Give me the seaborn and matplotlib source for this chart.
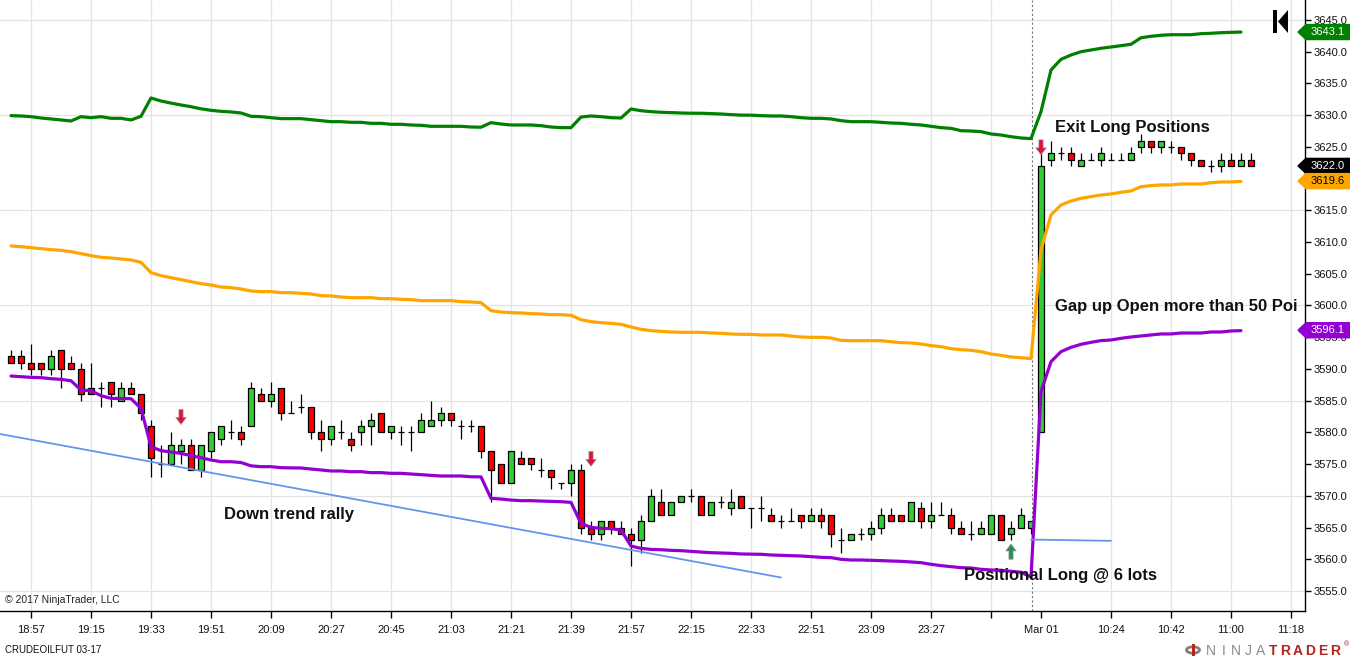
import numpy as np
import matplotlib
matplotlib.use("Agg")
import matplotlib.pyplot as plt
import seaborn as sns
from matplotlib.patches import Polygon, Rectangle, Circle

# CRUDEOILFUT 03-17, 3 minute bars: 28 Feb 18:51-23:57, then 01 Mar 10:03-11:06
opens = [3592, 3592, 3591, 3591, 3590, 3593, 3591, 3590, 3587, 3587,
         3588, 3585, 3587, 3586, 3581, 3575, 3575, 3577, 3578, 3574,
         3577, 3579, 3580, 3580, 3581, 3586, 3585, 3587, 3583, 3584,
         3584, 3580, 3579, 3580, 3579, 3580, 3581, 3583, 3580, 3580,
         3580, 3580, 3581, 3582, 3583, 3581, 3581, 3581, 3577, 3575,
         3572, 3576, 3576, 3574, 3574, 3572, 3572, 3574, 3565, 3564,
         3566, 3565, 3564, 3563, 3566, 3569, 3567, 3569, 3570, 3570,
         3567, 3569, 3568, 3570, 3568, 3568, 3567, 3566, 3566, 3567,
         3566, 3567, 3567, 3563, 3563, 3564, 3564, 3565, 3567, 3567,
         3566, 3568, 3566, 3567, 3567, 3565, 3564, 3564, 3564, 3567,
         3564, 3565, 3565,
         3580, 3623, 3624, 3624, 3622, 3623, 3623, 3623, 3623, 3623,
         3625, 3626, 3625, 3625, 3625, 3624, 3623, 3622, 3622, 3623,
         3622, 3623]
highs = [3593, 3593, 3594, 3591, 3593, 3593, 3592, 3591, 3591, 3588,
         3588, 3588, 3588, 3586, 3582, 3578, 3580, 3579, 3579, 3578,
         3580, 3581, 3582, 3581, 3588, 3587, 3588, 3587, 3585, 3586,
         3584, 3582, 3581, 3582, 3580, 3582, 3583, 3583, 3581, 3581,
         3581, 3583, 3585, 3584, 3583, 3582, 3582, 3581, 3577, 3575,
         3577, 3577, 3576, 3576, 3574, 3572, 3575, 3575, 3566, 3566,
         3566, 3566, 3565, 3567, 3571, 3571, 3569, 3570, 3571, 3570,
         3569, 3570, 3571, 3570, 3568, 3570, 3568, 3567, 3568, 3567,
         3568, 3568, 3567, 3565, 3564, 3565, 3566, 3568, 3568, 3567,
         3569, 3569, 3569, 3569, 3568, 3566, 3566, 3566, 3567, 3567,
         3566, 3568, 3566,
         3624, 3626, 3625, 3625, 3624, 3624, 3625, 3624, 3624, 3625,
         3627, 3626, 3626, 3626, 3625, 3624, 3623, 3623, 3624, 3624,
         3624, 3624]
lows = [3591, 3590, 3589, 3589, 3589, 3587, 3590, 3585, 3586, 3584,
        3584, 3585, 3586, 3582, 3573, 3573, 3575, 3575, 3574, 3573,
        3576, 3578, 3579, 3578, 3581, 3585, 3584, 3582, 3583, 3583,
        3579, 3577, 3578, 3579, 3577, 3578, 3578, 3580, 3579, 3578,
        3577, 3580, 3581, 3581, 3581, 3579, 3580, 3576, 3569, 3572,
        3572, 3575, 3574, 3573, 3571, 3571, 3570, 3564, 3563, 3563,
        3564, 3564, 3559, 3561, 3566, 3567, 3567, 3569, 3569, 3567,
        3567, 3568, 3567, 3568, 3565, 3566, 3566, 3565, 3566, 3565,
        3566, 3565, 3562, 3561, 3563, 3563, 3563, 3564, 3566, 3566,
        3566, 3565, 3565, 3567, 3564, 3564, 3563, 3564, 3564, 3563,
        3563, 3565, 3564,
        3580, 3622, 3623, 3622, 3622, 3623, 3622, 3623, 3623, 3623,
        3624, 3624, 3624, 3624, 3623, 3622, 3622, 3621, 3621, 3622,
        3622, 3622]
closes = [3591, 3591, 3590, 3590, 3592, 3590, 3590, 3586, 3586, 3587,
          3586, 3587, 3586, 3583, 3576, 3575, 3578, 3578, 3574, 3578,
          3580, 3581, 3580, 3579, 3587, 3585, 3586, 3583, 3583, 3584,
          3580, 3579, 3581, 3580, 3578, 3581, 3582, 3580, 3581, 3580,
          3580, 3582, 3582, 3583, 3582, 3581, 3581, 3577, 3574, 3572,
          3577, 3575, 3575, 3574, 3573, 3572, 3574, 3565, 3564, 3566,
          3565, 3564, 3563, 3566, 3570, 3567, 3569, 3570, 3570, 3567,
          3569, 3569, 3569, 3568, 3568, 3568, 3566, 3566, 3566, 3566,
          3567, 3566, 3564, 3563, 3564, 3564, 3565, 3567, 3566, 3566,
          3569, 3566, 3567, 3567, 3565, 3564, 3564, 3565, 3567, 3563,
          3565, 3567, 3566,
          3622, 3624, 3624, 3623, 3623, 3623, 3624, 3623, 3623, 3624,
          3626, 3625, 3626, 3625, 3624, 3623, 3622, 3622, 3623, 3622,
          3623, 3622]

# indicator bands (green / orange / purple), they stop one bar before the last candle
upper_band = [3629.92, 3629.87, 3629.76, 3629.55, 3629.40, 3629.24, 3629.08, 3629.76, 3629.60, 3629.76,
              3629.50, 3629.50, 3629.24, 3629.82, 3632.70, 3632.23, 3631.90, 3631.60, 3631.33, 3631.00,
              3630.76, 3630.60, 3630.50, 3630.34, 3629.82, 3629.76, 3629.60, 3629.45, 3629.45, 3629.45,
              3629.29, 3629.13, 3628.97, 3628.97, 3628.87, 3628.87, 3628.71, 3628.71, 3628.56, 3628.56,
              3628.45, 3628.40, 3628.24, 3628.24, 3628.24, 3628.24, 3628.13, 3628.10, 3628.82, 3628.60,
              3628.45, 3628.45, 3628.45, 3628.34, 3628.13, 3628.03, 3628.03, 3629.70, 3629.87, 3629.76,
              3629.60, 3629.55, 3630.97, 3630.70, 3630.55, 3630.45, 3630.40, 3630.34, 3630.30, 3630.30,
              3630.24, 3630.18, 3630.08, 3630.00, 3630.00, 3629.92, 3629.87, 3629.87, 3629.76, 3629.60,
              3629.50, 3629.50, 3629.40, 3629.13, 3628.97, 3628.97, 3628.97, 3628.87, 3628.76, 3628.71,
              3628.56, 3628.45, 3628.24, 3628.03, 3627.92, 3627.55, 3627.50, 3627.40, 3627.03, 3626.87,
              3626.60, 3626.40, 3626.30,
              3630.55, 3637.12, 3638.80, 3639.48, 3640.00, 3640.27, 3640.54, 3640.74, 3640.95, 3641.17,
              3642.20, 3642.43, 3642.59, 3642.68, 3642.68, 3642.68, 3642.84, 3642.90, 3643.00, 3643.05,
              3643.10]
mid_band = [3609.38, 3609.27, 3609.11, 3608.96, 3608.80, 3608.69, 3608.48, 3608.17, 3607.85, 3607.59,
            3607.48, 3607.33, 3607.17, 3606.80, 3605.17, 3604.70, 3604.38, 3604.07, 3603.75, 3603.44,
            3603.23, 3602.91, 3602.81, 3602.60, 3602.28, 3602.18, 3602.18, 3602.02, 3602.02, 3601.91,
            3601.81, 3601.55, 3601.50, 3601.34, 3601.23, 3601.23, 3601.23, 3601.07, 3601.07, 3600.97,
            3600.92, 3600.76, 3600.76, 3600.76, 3600.76, 3600.60, 3600.55, 3600.44, 3599.18, 3598.97,
            3598.87, 3598.82, 3598.71, 3598.66, 3598.55, 3598.55, 3598.45, 3597.76, 3597.45, 3597.29,
            3597.18, 3597.03, 3596.61, 3596.24, 3596.03, 3595.92, 3595.82, 3595.77, 3595.77, 3595.77,
            3595.66, 3595.61, 3595.50, 3595.45, 3595.45, 3595.35, 3595.35, 3595.35, 3595.19, 3595.03,
            3594.98, 3594.98, 3594.87, 3594.50, 3594.45, 3594.45, 3594.45, 3594.45, 3594.29, 3594.14,
            3594.09, 3593.93, 3593.67, 3593.51, 3593.19, 3593.03, 3592.93, 3592.72, 3592.35, 3592.14,
            3591.88, 3591.77, 3591.62,
            3608.75, 3614.27, 3615.84, 3616.47, 3616.89, 3617.16, 3617.42, 3617.58, 3617.84, 3618.05,
            3618.73, 3618.89, 3619.00, 3619.00, 3619.15, 3619.15, 3619.15, 3619.36, 3619.47, 3619.47,
            3619.55]
lower_band = [3588.88, 3588.77, 3588.67, 3588.62, 3588.46, 3588.35, 3588.14, 3586.67, 3586.57, 3585.78,
              3585.36, 3585.33, 3585.31, 3583.78, 3577.74, 3577.11, 3576.90, 3576.69, 3576.32, 3576.00,
              3575.64, 3575.37, 3575.37, 3575.25, 3574.72, 3574.59, 3574.59, 3574.43, 3574.40, 3574.38,
              3574.22, 3574.07, 3573.91, 3573.91, 3573.80, 3573.80, 3573.65, 3573.65, 3573.54, 3573.54,
              3573.43, 3573.33, 3573.22, 3573.12, 3573.12, 3573.12, 3573.00, 3572.98, 3569.60, 3569.49,
              3569.33, 3569.23, 3569.23, 3569.17, 3569.12, 3569.07, 3568.96, 3565.65, 3565.02, 3564.87,
              3564.82, 3564.60, 3562.08, 3561.71, 3561.55, 3561.50, 3561.40, 3561.35, 3561.24, 3561.13,
              3561.03, 3560.98, 3560.93, 3560.83, 3560.80, 3560.78, 3560.67, 3560.62, 3560.56, 3560.51,
              3560.41, 3560.30, 3560.25, 3559.99, 3559.88, 3559.88, 3559.83, 3559.78, 3559.72, 3559.67,
              3559.57, 3559.46, 3559.20, 3558.99, 3558.83, 3558.67, 3558.62, 3558.41, 3558.31, 3558.26,
              3558.10, 3557.94, 3557.20,
              3586.40, 3591.14, 3592.72, 3593.40, 3593.88, 3594.19, 3594.46, 3594.56, 3594.82, 3595.03,
              3595.19, 3595.35, 3595.51, 3595.51, 3595.66, 3595.66, 3595.66, 3595.82, 3595.82, 3595.98,
              3596.03]

# drawn objects: trend line, short level line, signal arrows
trend_x = [-1.1, 77.0]
trend_y = [3579.74, 3557.12]
level_x = [102.0, 110.0]
level_y = [3563.1, 3562.9]
sell_bars = [17, 58, 103]
sell_top = [3583.6, 3577.0, 3626.1]
buy_bars = [100]
buy_bottom = [3560.0]

x_tick_pos = [2, 8, 14, 20, 26, 32, 38, 44, 50, 56, 62, 68, 74, 80, 86, 92, 98, 103, 110, 116, 122, 128]
x_tick_labels = ["18:57", "19:15", "19:33", "19:51", "20:09", "20:27", "20:45", "21:03", "21:21",
                 "21:39", "21:57", "22:15", "22:33", "22:51", "23:09", "23:27", "", "Mar 01",
                 "10:24", "10:42", "11:00", "11:18"]
session_break = 102.05

tag_values = [3643.1, 3622.0, 3619.6, 3596.1]
tag_colors = ["#008000", "#000000", "#FFA500", "#9400D3"]
tag_text_colors = ["white", "white", "black", "white"]

# the gap-up note is cut at the panel edge in the chart, so only the visible part is kept
notes = ["Down trend rally", "Exit Long Positions", "Gap up Open more than 50 Poi",
         "Positional Long @ 6 lots"]
note_x = [21.3, 104.4, 104.4, 95.3]
note_y = [3567.1, 3628.1, 3599.8, 3557.5]

sns.set_style("white")
plt.rcParams["font.family"] = ["Liberation Sans", "DejaVu Sans"]

W, H = 1350, 660
fig = plt.figure(figsize=(W / 100, H / 100), dpi=100)
ax = fig.add_axes([0, 1 - 611 / H, 1305 / W, 611 / H])

idx = np.arange(len(closes))
o = np.array(opens)
c = np.array(closes)

# candles
ax.vlines(idx, lows, highs, color="black", linewidth=0.9, zorder=2)
body_colors = np.where(c > o, "#32CD32", np.where(c < o, "#FF0000", "black"))
ax.bar(idx, np.abs(c - o), bottom=np.minimum(o, c), width=0.62, color=body_colors,
       edgecolor="black", linewidth=0.9, zorder=3)

# bands
band_idx = idx[:len(upper_band)]
for vals, col in [(upper_band, "#008000"), (mid_band, "#FFA500"), (lower_band, "#9400D3")]:
    sns.lineplot(x=band_idx, y=vals, color=col, linewidth=2.3, estimator=None, ax=ax, zorder=4)

# drawings
ax.plot(trend_x, trend_y, color="#6495ED", linewidth=1.3, zorder=5)
ax.plot(level_x, level_y, color="#6495ED", linewidth=1.3, zorder=5)
ax.axvline(session_break, color="#777777", linestyle=(0, (2, 2)), linewidth=0.8, zorder=1)

arrow_style = "simple,head_width=0.75,head_length=0.5,tail_width=0.3"
for b, top in zip(sell_bars, sell_top):
    ax.annotate("", xy=(b, top - 2.35), xytext=(b, top),
                arrowprops=dict(arrowstyle=arrow_style, fc="#DC143C", ec="#999999", lw=0.5,
                                mutation_scale=10, shrinkA=0, shrinkB=0), zorder=6)
for b, bot in zip(buy_bars, buy_bottom):
    ax.annotate("", xy=(b, bot + 2.4), xytext=(b, bot),
                arrowprops=dict(arrowstyle=arrow_style, fc="#2E8B57", ec="#999999", lw=0.5,
                                mutation_scale=10, shrinkA=0, shrinkB=0), zorder=6)

for t, x, y in zip(notes, note_x, note_y):
    ax.text(x, y, t, fontsize=12, fontweight="bold", color="#111111", ha="left", va="center",
            clip_on=True, zorder=7)

# axes limits, ticks and grid
ax.set_xlim(-1.1, 129.4)
ax.set_ylim(3551.84, 3648.15)
ax.set_xticks(x_tick_pos)
ax.set_xticklabels(x_tick_labels)
y_ticks = np.arange(3555, 3646, 5)
ax.set_yticks(y_ticks)
ax.set_yticklabels([f"{v:.1f}" for v in y_ticks])
ax.yaxis.tick_right()
ax.tick_params(axis="x", bottom=True, direction="out", length=5, width=1, color="black",
               labelsize=8, pad=5, labelcolor="#111111")
ax.tick_params(axis="y", right=True, left=False, labelright=True, labelleft=False,
               direction="out", length=4, width=1, color="black", labelsize=8, pad=2,
               labelcolor="#111111")
ax.grid(True, color="#E3E3E3", linewidth=0.9)
ax.set_axisbelow(True)
for lbl, gl in zip(x_tick_labels, ax.xaxis.get_gridlines()):
    if lbl == "Mar 01":
        gl.set_visible(False)
for v, gl in zip(y_ticks, ax.yaxis.get_gridlines()):
    if v % 15 != 0:
        gl.set_visible(False)
for side in ["left", "top"]:
    ax.spines[side].set_visible(False)
for side in ["right", "bottom"]:
    ax.spines[side].set_color("black")
    ax.spines[side].set_linewidth(1)
ax.set_xlabel("")
ax.set_ylabel("")

# price markers on the right scale
ytr = ax.get_yaxis_transform()
px = 1 / 1305
hh = 7.5 / 6.344
for v, col, tcol in zip(tag_values, tag_colors, tag_text_colors):
    pts = [(1 - 7 * px, v), (1 + 1 * px, v + hh), (1 + 46 * px, v + hh),
           (1 + 46 * px, v - hh), (1 + 1 * px, v - hh)]
    ax.add_patch(Polygon(pts, closed=True, facecolor=col, edgecolor=col, transform=ytr,
                         clip_on=False, zorder=10))
    ax.text(1 + 23 * px, v, f"{v:.1f}", transform=ytr, ha="center", va="center",
            fontsize=8, color=tcol, clip_on=False, zorder=11)

# texts outside the data
fig.text(5 / W, 1 - 600 / H, "\u00a9 2017 NinjaTrader, LLC", fontsize=7.5, color="#222222",
         va="center")
fig.text(5 / W, 1 - 650 / H, "CRUDEOILFUT 03-17", fontsize=7,
         family=["Liberation Sans Narrow", "Liberation Sans"], va="center", color="#111111")

# NinjaTrader logo
fig.add_artist(Circle((1193 / W, 1 - 650 / H), 6.5 / W, transform=fig.transFigure,
                      facecolor="none", edgecolor="#8a7a74", linewidth=2))
fig.add_artist(Rectangle((1192 / W, 1 - 656 / H), 2.5 / W, 12 / H, transform=fig.transFigure,
                         facecolor="#b3261e", edgecolor="none"))
for k, ch in enumerate("NINJATRADER"):
    fig.text((1211 + 12.4 * k) / W, 1 - 651 / H, ch, fontsize=10, va="center", ha="center",
             color="#8c8c8c" if k < 5 else "#b3261e", fontweight="normal" if k < 5 else "bold")
fig.text(1344 / W, 1 - 645 / H, "\u00ae", fontsize=5, color="#b3261e", va="center")

# the "back to start" button at the top right
fig.add_artist(Rectangle((1273 / W, 1 - 33 / H), 4 / W, 23 / H, transform=fig.transFigure,
                         facecolor="black", edgecolor="none"))
fig.add_artist(Polygon([(1278 / W, 1 - 21.5 / H), (1288 / W, 1 - 10 / H), (1288 / W, 1 - 33 / H)],
                       closed=True, transform=fig.transFigure, facecolor="black", edgecolor="none"))

fig.savefig("out.png", dpi=100)
